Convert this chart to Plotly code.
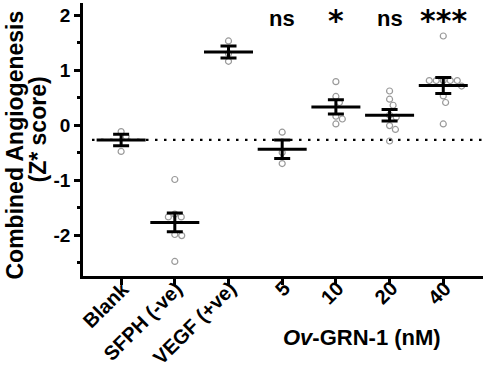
import math
import plotly.graph_objects as go

# ---------------- data ----------------
categories = ["Blank", "SFPH (-ve)", "VEGF (+ve)", "5", "10", "20", "40"]

blank_pts = [-0.12, -0.21, -0.48]
sfph_pts = [-0.99, -1.62, -1.67, -1.67, -1.99, -2.01, -2.48]
vegf_pts = [1.53, 1.30, 1.16]
grn5_pts = [-0.13, -0.50, -0.70]
grn10_pts = [0.79, 0.52, 0.41, 0.16, 0.11, 0.02]
grn20_pts = [0.62, 0.47, 0.36, 0.18, 0.14, -0.01, -0.08, -0.29]
grn40_pts = [1.62, 0.81, 0.81, 0.81, 0.81, 0.81, 0.71, 0.53, 0.41, 0.02]

means = [-0.27, -1.77, 1.33, -0.44, 0.33, 0.18, 0.72]
sems = [0.105, 0.17, 0.11, 0.17, 0.13, 0.105, 0.145]

sig_labels = ["", "", "", "ns", "*", "ns", "***"]

y_tickvals = [-2, -1, 0, 1, 2]
y_ticktext = ["-2", "-1", "0", "1", "2"]

groups = [blank_pts, sfph_pts, vegf_pts, grn5_pts, grn10_pts, grn20_pts, grn40_pts]

# ---------------- geometry helpers ----------------
W, H = 484, 368
ML, MR, MT, MB = 83, 1, 3, 92
X_RANGE = [-0.71, 6.74]
Y_RANGE = [-2.745, 2.22]
PW, PH = W - ML - MR, H - MT - MB
px_per_x = PW / (X_RANGE[1] - X_RANGE[0])
px_per_y = PH / (Y_RANGE[1] - Y_RANGE[0])
D = 7.0  # dot spacing in px


def swarm(values):
    """Simple beeswarm: horizontal offsets (data units) so dots don't overlap."""
    placed = []  # (x_px, y_px)
    offs = []
    for v in values:
        y = v * px_per_y
        cands = [0.0]
        for (px, py) in placed:
            dy = abs(py - y)
            if dy < D:
                dx = math.sqrt(D * D - dy * dy)
                cands += [px + dx, px - dx]
        cands.sort(key=lambda c: (abs(c), -c))
        for c in cands:
            ok = all((c - px) ** 2 + (y - py) ** 2 >= D * D - 1e-6 for px, py in placed)
            if ok:
                placed.append((c, y))
                offs.append(c / px_per_x)
                break
    return offs


fig = go.Figure()

FONT = "Liberation Sans, Arial, sans-serif"
STAR_FONT = "DejaVu Sans, Liberation Sans, sans-serif"

# reference dotted line at the Blank mean
fig.add_shape(type="line", xref="paper", yref="y", x0=0.0225, x1=1.0,
              y0=means[0], y1=means[0],
              line=dict(color="black", width=2.4, dash="2.5px,6.5px"))

# individual points
for i, pts in enumerate(groups):
    offs = swarm(pts)
    fig.add_trace(go.Scatter(
        x=[i + o for o in offs], y=pts, mode="markers",
        marker=dict(symbol="circle-open", size=6, color="#9a9a9a",
                    line=dict(width=1.2, color="#9a9a9a")),
        showlegend=False, hoverinfo="skip"))

# mean +/- SEM
fig.add_trace(go.Scatter(
    x=list(range(len(categories))), y=means, mode="markers",
    marker=dict(symbol="line-ew", size=35, color="black",
                line=dict(width=3, color="black")),
    error_y=dict(type="data", array=sems, visible=True,
                 thickness=3, width=8, color="black"),
    showlegend=False))

# significance labels
for i, s in enumerate(sig_labels):
    if not s:
        continue
    if "*" in s:
        fig.add_annotation(x=i, y=1.90, text=f"<b>{s}</b>", showarrow=False,
                           xanchor="center", yanchor="middle", borderpad=0,
                           font=dict(family=STAR_FONT, size=30, color="black"))
    else:
        fig.add_annotation(x=i, y=1.94, text=f"<b>{s}</b>", showarrow=False,
                           xanchor="center", yanchor="middle", borderpad=0,
                           font=dict(family=FONT, size=22, color="black"))

# category labels, rotated, hanging from the ticks
for i, c in enumerate(categories):
    fig.add_annotation(x=i, xref="x", yref="paper", y=(276 - 276) / PH,
                       text=f"<b>{c}</b>", textangle=-45, showarrow=False,
                       xanchor="right", yanchor="top", xshift=13, borderpad=0,
                       font=dict(family=FONT, size=20, color="black"))

# y-axis title (two lines, tight spacing)
fig.add_annotation(xref="paper", yref="paper", x=(15 - ML) / PW,
                   y=(H - MB - 145.5) / PH,
                   text="<b>Combined Angiogenesis</b>", textangle=-90, showarrow=False,
                   xanchor="center", yanchor="middle",
                   font=dict(family=FONT, size=23, color="black"))
fig.add_annotation(xref="paper", yref="paper", x=(37 - ML) / PW,
                   y=(H - MB - 129.5) / PH,
                   text="<b>(Z* score)</b>", textangle=-90, showarrow=False,
                   xanchor="center", yanchor="middle",
                   font=dict(family=FONT, size=23, color="black"))

# x-axis title under the concentrations
fig.add_annotation(xref="paper", yref="paper", x=(362 - ML) / PW,
                   y=(H - MB - 337) / PH,
                   text="<b><i>Ov</i>-GRN-1 (nM)</b>", showarrow=False,
                   xanchor="center", yanchor="middle",
                   font=dict(family=FONT, size=22, color="black"))

fig.update_layout(
    width=W, height=H,
    margin=dict(l=ML, r=MR, t=MT, b=MB),
    plot_bgcolor="white", paper_bgcolor="white",
    font=dict(family=FONT, color="black"),
    xaxis=dict(range=X_RANGE, tickmode="array", tickvals=list(range(len(categories))),
               showticklabels=False,
               showline=True, linecolor="black", linewidth=2.5,
               ticks="outside", ticklen=6, tickwidth=2.5, tickcolor="black",
               showgrid=False, zeroline=False, fixedrange=True),
    yaxis=dict(range=Y_RANGE, tickmode="array", tickvals=y_tickvals, ticktext=y_ticktext,
               tickfont=dict(family=FONT, size=19, color="black", weight="bold"),
               showline=True, linecolor="black", linewidth=2.5,
               ticks="outside", ticklen=6, tickwidth=2.5, tickcolor="black",
               minor=dict(dtick=0.5, tick0=0, ticks="outside", ticklen=3,
                          tickwidth=2.5, tickcolor="black", showgrid=False),
               showgrid=False, zeroline=False, fixedrange=True),
)

fig.write_html("out.html", config={"displayModeBar": False},
               post_script="document.body.style.margin='0';document.body.style.overflow='hidden';")
